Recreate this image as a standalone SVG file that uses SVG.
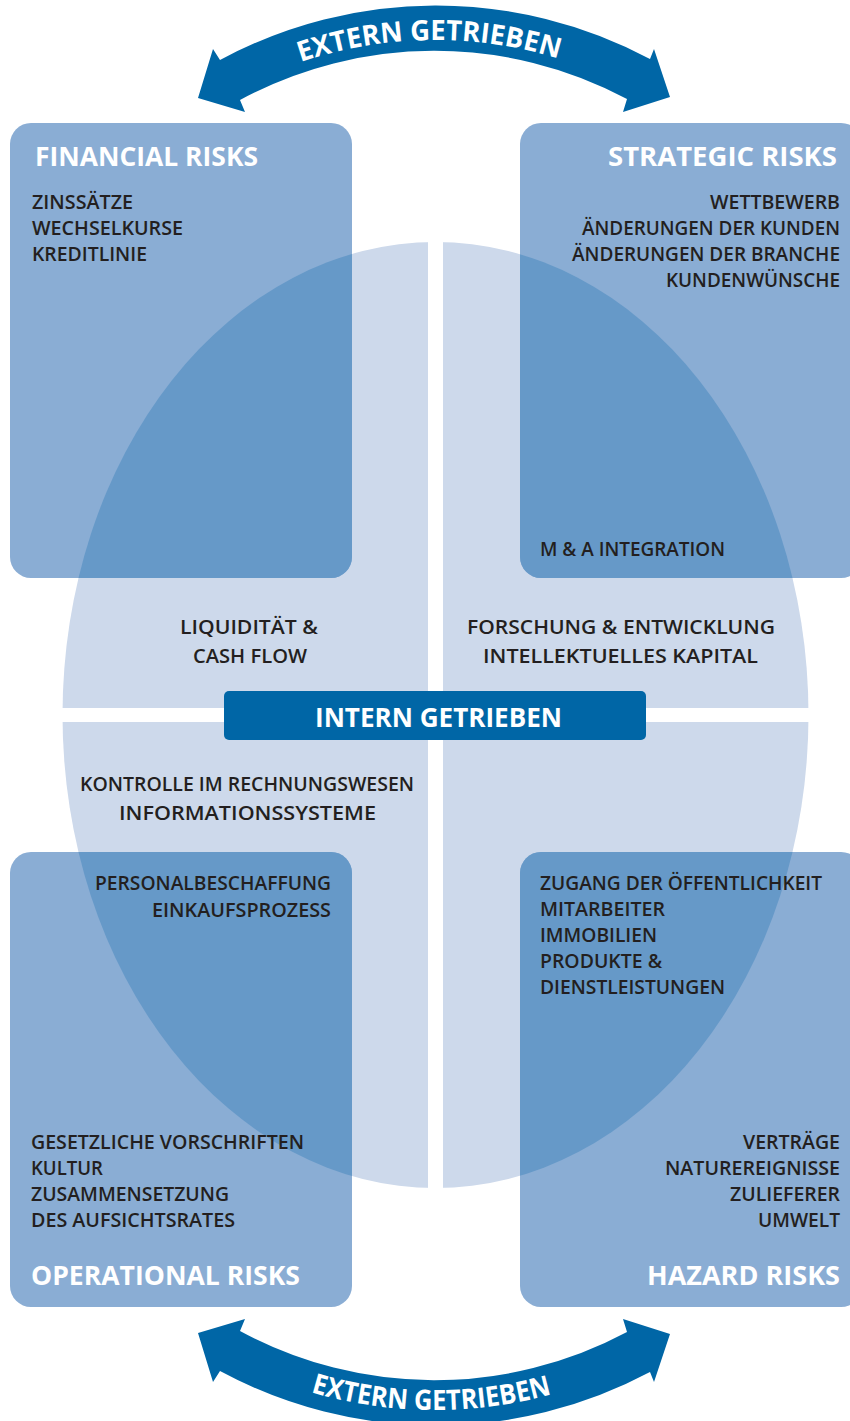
<svg xmlns="http://www.w3.org/2000/svg" xmlns:xlink="http://www.w3.org/1999/xlink" width="850" height="1421" viewBox="0 0 850 1421">
<style>
.it{font-family:"Open Sans","Noto Sans","Liberation Sans",sans-serif;font-size:20px;font-weight:600;fill:#231f20}
.hd{font-family:"Open Sans","Noto Sans","Liberation Sans",sans-serif;font-size:26px;font-weight:700;fill:#ffffff}
.ar{font-family:"Open Sans","Noto Sans","Liberation Sans",sans-serif;font-size:28px;font-weight:700;fill:#ffffff}
.box{fill:#8aadd4}
.ov{fill:#6699c8}
.blue{fill:#0066a6}
.end{text-anchor:end}
.mid{text-anchor:middle}
</style>
<defs>
<clipPath id="ellClip"><ellipse cx="435.5" cy="715" rx="373" ry="473"/></clipPath>
<rect id="bFin" x="10" y="123" width="342" height="455" rx="21"/>
<rect id="bStr" x="520" y="123" width="342" height="455" rx="21"/>
<rect id="bOp" x="10" y="852" width="342" height="455" rx="21"/>
<rect id="bHaz" x="520" y="852" width="342" height="455" rx="21"/>
<path id="arrowShape" d="M 220 60 L 213 49 L 198 98 L 245 112 L 240 100 A 409 409 0 0 1 627 99 L 623 112 L 670 97 L 654 49 L 650 59 A 455 455 0 0 0 220 60 Z"/>
<path id="tpTop" d="M 225 96.3 A 420 420 0 0 1 645 96.3"/>
<path id="tpBot" d="M 215.5 1351.2 A 439 439 0 0 0 654.5 1351.2"/>
</defs>

<g id="ellipse">
<ellipse cx="435.5" cy="715" rx="373" ry="473" fill="#cdd9eb"/>
</g>

<g id="financial-risks">
<use href="#bFin" class="box"/>
<use href="#bFin" class="ov" clip-path="url(#ellClip)"/>
<text class="hd" x="35" y="166" textLength="223" lengthAdjust="spacingAndGlyphs">FINANCIAL RISKS</text>
<text class="it" x="32" y="209" textLength="101" lengthAdjust="spacingAndGlyphs">ZINSSÄTZE</text>
<text class="it" x="32" y="235" textLength="151" lengthAdjust="spacingAndGlyphs">WECHSELKURSE</text>
<text class="it" x="32" y="261" textLength="115" lengthAdjust="spacingAndGlyphs">KREDITLINIE</text>
</g>

<g id="strategic-risks">
<use href="#bStr" class="box"/>
<use href="#bStr" class="ov" clip-path="url(#ellClip)"/>
<text class="hd end" x="837" y="166" textLength="229" lengthAdjust="spacingAndGlyphs">STRATEGIC RISKS</text>
<text class="it end" x="840" y="209" textLength="130" lengthAdjust="spacingAndGlyphs">WETTBEWERB</text>
<text class="it end" x="840" y="235" textLength="258" lengthAdjust="spacingAndGlyphs">ÄNDERUNGEN DER KUNDEN</text>
<text class="it end" x="840" y="261" textLength="268" lengthAdjust="spacingAndGlyphs">ÄNDERUNGEN DER BRANCHE</text>
<text class="it end" x="840" y="287" textLength="174" lengthAdjust="spacingAndGlyphs">KUNDENWÜNSCHE</text>
<text class="it" x="540" y="556" textLength="185" lengthAdjust="spacingAndGlyphs">M &amp; A INTEGRATION</text>
</g>

<g id="operational-risks">
<use href="#bOp" class="box"/>
<use href="#bOp" class="ov" clip-path="url(#ellClip)"/>
<text class="it end" x="331" y="890" textLength="236" lengthAdjust="spacingAndGlyphs">PERSONALBESCHAFFUNG</text>
<text class="it end" x="331" y="917" textLength="179" lengthAdjust="spacingAndGlyphs">EINKAUFSPROZESS</text>
<text class="it" x="31" y="1149" textLength="273" lengthAdjust="spacingAndGlyphs">GESETZLICHE VORSCHRIFTEN</text>
<text class="it" x="31" y="1175" textLength="72" lengthAdjust="spacingAndGlyphs">KULTUR</text>
<text class="it" x="31" y="1201" textLength="198" lengthAdjust="spacingAndGlyphs">ZUSAMMENSETZUNG</text>
<text class="it" x="31" y="1227" textLength="204" lengthAdjust="spacingAndGlyphs">DES AUFSICHTSRATES</text>
<text class="hd" x="31" y="1285" textLength="269" lengthAdjust="spacingAndGlyphs">OPERATIONAL RISKS</text>
</g>

<g id="hazard-risks">
<use href="#bHaz" class="box"/>
<use href="#bHaz" class="ov" clip-path="url(#ellClip)"/>
<text class="it" x="540" y="890" textLength="282" lengthAdjust="spacingAndGlyphs">ZUGANG DER ÖFFENTLICHKEIT</text>
<text class="it" x="540" y="916" textLength="125" lengthAdjust="spacingAndGlyphs">MITARBEITER</text>
<text class="it" x="540" y="942" textLength="117" lengthAdjust="spacingAndGlyphs">IMMOBILIEN</text>
<text class="it" x="540" y="968" textLength="122" lengthAdjust="spacingAndGlyphs">PRODUKTE &amp;</text>
<text class="it" x="540" y="994" textLength="185" lengthAdjust="spacingAndGlyphs">DIENSTLEISTUNGEN</text>
<text class="it end" x="840" y="1149" textLength="97" lengthAdjust="spacingAndGlyphs">VERTRÄGE</text>
<text class="it end" x="840" y="1175" textLength="175" lengthAdjust="spacingAndGlyphs">NATUREREIGNISSE</text>
<text class="it end" x="840" y="1201" textLength="110" lengthAdjust="spacingAndGlyphs">ZULIEFERER</text>
<text class="it end" x="840" y="1227" textLength="82" lengthAdjust="spacingAndGlyphs">UMWELT</text>
<text class="hd end" x="840" y="1285" textLength="193" lengthAdjust="spacingAndGlyphs">HAZARD RISKS</text>
</g>

<g id="gaps">
<rect x="428" y="230" width="15" height="970" fill="#ffffff"/>
<rect x="50" y="708" width="770" height="14" fill="#ffffff"/>
</g>

<g id="internal-items">
<text class="it mid" x="249" y="634" textLength="138" lengthAdjust="spacingAndGlyphs">LIQUIDITÄT &amp;</text>
<text class="it mid" x="250" y="663" textLength="114" lengthAdjust="spacingAndGlyphs">CASH FLOW</text>
<text class="it mid" x="621" y="634" textLength="308" lengthAdjust="spacingAndGlyphs">FORSCHUNG &amp; ENTWICKLUNG</text>
<text class="it mid" x="620.5" y="663" textLength="275" lengthAdjust="spacingAndGlyphs">INTELLEKTUELLES KAPITAL</text>
<text class="it mid" x="247" y="791" textLength="334" lengthAdjust="spacingAndGlyphs">KONTROLLE IM RECHNUNGSWESEN</text>
<text class="it mid" x="247.5" y="820" textLength="257" lengthAdjust="spacingAndGlyphs">INFORMATIONSSYSTEME</text>
</g>

<g id="intern-getrieben">
<rect x="224" y="691" width="422" height="49" rx="5" class="blue"/>
<text class="hd mid" x="438.5" y="727" textLength="247" lengthAdjust="spacingAndGlyphs">INTERN GETRIEBEN</text>
</g>

<g id="connectors">
<g id="arrow-top">
<use href="#arrowShape" class="blue"/>
<text class="ar" text-anchor="middle"><textPath href="#tpTop" startOffset="214" textLength="262" lengthAdjust="spacingAndGlyphs">EXTERN GETRIEBEN</textPath></text>
</g>
<g id="arrow-bottom">
<use href="#arrowShape" class="blue" transform="translate(0,1431) scale(1,-1)"/>
<text class="ar" text-anchor="middle"><textPath href="#tpBot" startOffset="226" textLength="244" lengthAdjust="spacingAndGlyphs">EXTERN GETRIEBEN</textPath></text>
</g>
</g>
</svg>
